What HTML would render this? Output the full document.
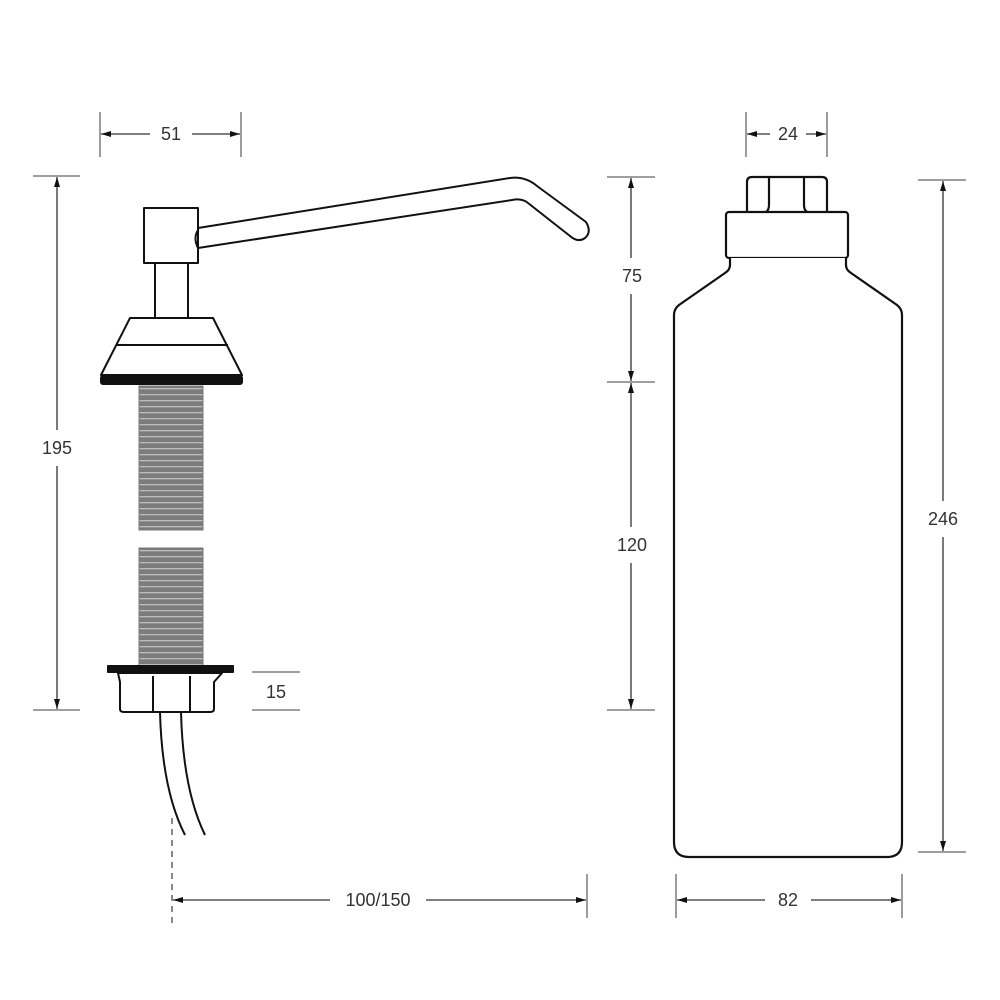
<!DOCTYPE html>
<html><head><meta charset="utf-8"><style>
html,body{margin:0;padding:0;background:#fff;}
svg{display:block}
text{font-family:"Liberation Sans Narrow","Liberation Sans",sans-serif;font-size:18px;fill:#333;text-anchor:middle;dominant-baseline:central}
</style></head><body>
<svg width="1000" height="1000" viewBox="0 0 1000 1000">
<defs>
<marker id="a" viewBox="0 0 10 6" refX="10" refY="3" markerWidth="10" markerHeight="6" markerUnits="userSpaceOnUse" orient="auto-start-reverse"><path d="M0,0L10,3L0,6z" fill="#111"/></marker>
<pattern id="th" width="6" height="6" patternUnits="userSpaceOnUse"><rect width="6" height="6" fill="#7c7c7c"/><rect y="4" width="6" height="1.3" fill="#bdbdbd"/></pattern>
</defs>
<g stroke="#666" stroke-width="1.3" fill="none">
<line x1="100" y1="112" x2="100" y2="157"/><line x1="241" y1="112" x2="241" y2="157"/>
<line x1="150" y1="134" x2="101" y2="134" marker-end="url(#a)" stroke="#333"/>
<line x1="192" y1="134" x2="240" y2="134" marker-end="url(#a)" stroke="#333"/>
<line x1="33" y1="176" x2="80" y2="176"/><line x1="33" y1="710" x2="80" y2="710"/>
<line x1="57" y1="430" x2="57" y2="177" marker-end="url(#a)" stroke="#333"/>
<line x1="57" y1="466" x2="57" y2="709" marker-end="url(#a)" stroke="#333"/>
<line x1="252" y1="672" x2="300" y2="672"/><line x1="252" y1="710" x2="300" y2="710"/>
<line x1="587" y1="874" x2="587" y2="918"/>
<line x1="330" y1="900" x2="173" y2="900" marker-end="url(#a)" stroke="#333"/>
<line x1="426" y1="900" x2="586" y2="900" marker-end="url(#a)" stroke="#333"/>
<line x1="172" y1="818" x2="172" y2="925" stroke-dasharray="6,5" stroke="#888" stroke-width="2"/>
<line x1="746" y1="112" x2="746" y2="157"/><line x1="827" y1="112" x2="827" y2="157"/>
<line x1="770" y1="134" x2="747" y2="134" marker-end="url(#a)" stroke="#333"/>
<line x1="806" y1="134" x2="826" y2="134" marker-end="url(#a)" stroke="#333"/>
<line x1="607" y1="177" x2="655" y2="177"/><line x1="607" y1="382" x2="655" y2="382"/><line x1="607" y1="710" x2="655" y2="710"/>
<line x1="631" y1="258" x2="631" y2="178" marker-end="url(#a)" stroke="#333"/>
<line x1="631" y1="294" x2="631" y2="381" marker-end="url(#a)" stroke="#333"/>
<line x1="631" y1="527" x2="631" y2="383" marker-end="url(#a)" stroke="#333"/>
<line x1="631" y1="563" x2="631" y2="709" marker-end="url(#a)" stroke="#333"/>
<line x1="918" y1="180" x2="966" y2="180"/><line x1="918" y1="852" x2="966" y2="852"/>
<line x1="943" y1="501" x2="943" y2="181" marker-end="url(#a)" stroke="#333"/>
<line x1="943" y1="537" x2="943" y2="851" marker-end="url(#a)" stroke="#333"/>
<line x1="676" y1="874" x2="676" y2="918"/><line x1="902" y1="874" x2="902" y2="918"/>
<line x1="765" y1="900" x2="677" y2="900" marker-end="url(#a)" stroke="#333"/>
<line x1="811" y1="900" x2="901" y2="900" marker-end="url(#a)" stroke="#333"/>
</g>
<text x="171" y="134">51</text>
<text x="57" y="448">195</text>
<text x="276" y="692">15</text>
<text x="378" y="900">100/150</text>
<text x="788" y="134">24</text>
<text x="632" y="276">75</text>
<text x="632" y="545">120</text>
<text x="943" y="519">246</text>
<text x="788" y="900">82</text>

<g stroke="#111" stroke-width="2" fill="#fff" stroke-linejoin="round">
<path d="M198,228 L510,178 Q525,176 537,186 L586,222 Q592,232 585,238 Q578,243 570,236 L528,203 Q522,198 512,200 L198,248 Z"/>
<rect x="144" y="208" width="54" height="55"/>
<path d="M198,230 Q193,238 198,248" fill="none"/>
<rect x="155" y="263" width="33" height="55"/>
<path d="M130,318 L213,318 L242,375 L101,375 Z"/>
<line x1="117" y1="345" x2="228" y2="345"/>
<rect x="101" y="376" width="141" height="8" rx="2" fill="#111"/>
<rect x="139" y="386" width="64" height="144" fill="url(#th)" stroke="#777" stroke-width="1"/>
<rect x="139" y="548" width="64" height="120" fill="url(#th)" stroke="#777" stroke-width="1"/>
<rect x="108" y="666" width="125" height="6" fill="#111"/>
<path d="M118,673 L222,673 L214,682 L214,709 Q214,712 210,712 L124,712 Q120,712 120,709 L120,682 Z"/>
<line x1="153" y1="676" x2="153" y2="712"/><line x1="190" y1="676" x2="190" y2="712"/>
<path d="M160,712 Q162,790 185,835 M181,712 Q183,790 205,835" fill="none"/>
</g>

<g stroke="#111" stroke-width="2.2" fill="#fff" stroke-linejoin="round">
<path d="M747,212 L747,182 Q747,177 752,177 L822,177 Q827,177 827,182 L827,212"/>
<path d="M769,178 L769,205 Q769,210 766,212 M804,178 L804,205 Q804,210 807,212" fill="none"/>
<rect x="726" y="212" width="122" height="46" rx="3"/>
<path d="M730,258 L730,265 Q730,270 725,273 L679,305 Q674,309 674,315 L674,842 Q674,857 689,857 L887,857 Q902,857 902,842 L902,315 Q902,309 897,305 L851,273 Q846,270 846,265 L846,258"/>
</g>
</svg>
</body></html>
